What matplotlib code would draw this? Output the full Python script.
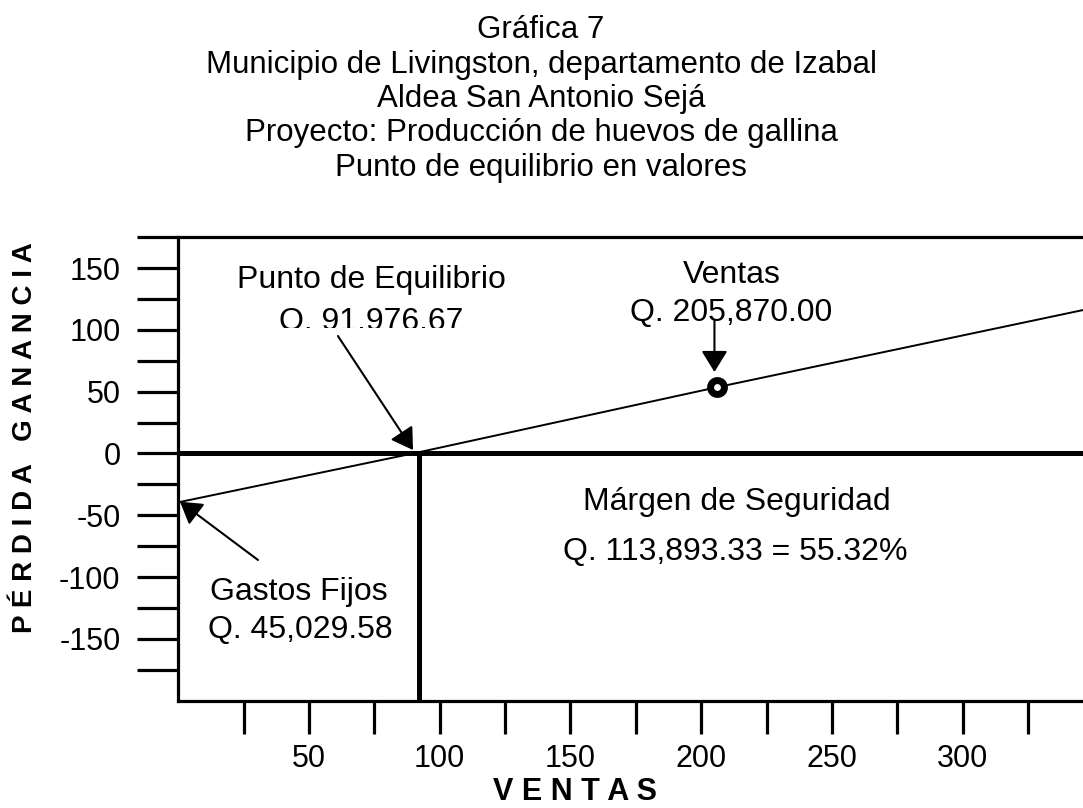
import matplotlib
matplotlib.use("Agg")
import matplotlib.pyplot as plt
from matplotlib.ticker import FixedLocator, FuncFormatter
from matplotlib.transforms import Bbox

plt.rcParams['font.family'] = ['Liberation Sans', 'DejaVu Sans']

# ---- data (thousands of quetzales) ----
title_lines = ["Gráfica 7",
               "Municipio de Livingston, departamento de Izabal",
               "Aldea San Antonio Sejá",
               "Proyecto: Producción de huevos de gallina",
               "Punto de equilibrio en valores"]
line_x = [0, 91.98, 205.87, 346]
line_y = [-39.5, 1.0, 53.5, 116.0]
breakeven_x = 91.98
sales_x = 205.87
sales_y = 53.5
fixed_y = -39.5
x_ticks = list(range(25, 326, 25))
x_labels = [50, 100, 150, 200, 250, 300]
y_ticks = list(range(-175, 176, 25))
y_labels = [150, 100, 50, 0, -50, -100, -150]

W, H = 1083, 808
fig = plt.figure(figsize=(W / 100, H / 100), dpi=100)
x0px, x1px = 178.2, 1083
ytop, ybot = 237.1, 700.8
ax = fig.add_axes([x0px / W, 1 - ybot / H, (x1px - x0px) / W, (ybot - ytop) / H])
ax.set_xlim(0, 346)
ax.set_ylim(-200, 175)

for s in ['left', 'bottom', 'top']:
    ax.spines[s].set_linewidth(2.3)
ax.spines['right'].set_visible(False)

ax.xaxis.set_major_locator(FixedLocator(x_ticks))
ax.yaxis.set_major_locator(FixedLocator(y_ticks))
ax.xaxis.set_major_formatter(FuncFormatter(lambda v, p: f"{int(v)}" if int(v) in x_labels else ""))
ax.yaxis.set_major_formatter(FuncFormatter(lambda v, p: f"{int(v)}" if int(v) in y_labels else ""))
ax.tick_params(axis='y', direction='out', length=29.5, width=2.3, pad=12, labelsize=22)
ax.tick_params(axis='x', direction='out', length=23.8, width=2.3, pad=7, labelsize=22)

# lines
ax.axhline(0, color='black', lw=3.6, zorder=3)
ax.vlines(breakeven_x, -200, 0, color='black', lw=3.6, zorder=3)
ax.plot(line_x, line_y, color='black', lw=1.4, zorder=4, clip_on=False)
ax.plot([sales_x], [sales_y], 'o', ms=10, mew=5, mec='black', mfc='white', zorder=5)

aprops = dict(arrowstyle='-|>,head_length=0.65,head_width=0.4', lw=1.5,
              color='black', mutation_scale=20, shrinkA=0, shrinkB=0)

def px(xp, yp):
    return ((xp - x0px) / 2.616, (453.5 - yp) / 1.2367)

# arrows
ax.annotate('', xy=(89.8, 2.8), xytext=px(338, 336), arrowprops=aprops, zorder=6)
ax.annotate('', xy=(sales_x - 0.8, 65.9), xytext=(sales_x - 0.8, 107.6), arrowprops=aprops, zorder=6)
ax.annotate('', xy=(0.7, fixed_y + 0.5), xytext=px(258, 560), arrowprops=aprops, zorder=6,
            annotation_clip=False)

fs = 23
def ftxt(xp, yb, s, **kw):
    return fig.text(xp / W, 1 - yb / H, s, ha='center', va='baseline', fontsize=fs, **kw)

ftxt(371, 288, "Punto de Equilibrio")
t = ftxt(371, 330, "Q. 91,976.67")
t.set_clip_box(Bbox([[0, H - 328], [W, H]]))
t.set_clip_on(True)
ftxt(732, 283, "Ventas")
ftxt(731, 321, "Q. 205,870.00")
ftxt(737, 510, "Márgen de Seguridad")
ftxt(735, 560, "Q. 113,893.33 = 55.32%")
ftxt(299, 600, "Gastos Fijos")
ftxt(300, 638, "Q. 45,029.58")

# titles
for i, line in enumerate(title_lines):
    fig.text(541 / W, 1 - (38 + 34.5 * i) / H, line, ha='center', va='baseline', fontsize=22.5)

# axis labels
fig.text(575 / W, 1 - 800 / H, "V E N T A S", ha='center', va='baseline',
         fontsize=22, fontweight='bold')
fig.text(25 / W, 1 - 438 / H, "P É R D I D A   G A N A N C I A", ha='center', va='center',
         rotation=90, fontsize=20, fontweight='bold')

fig.savefig("out.png", dpi=100)
